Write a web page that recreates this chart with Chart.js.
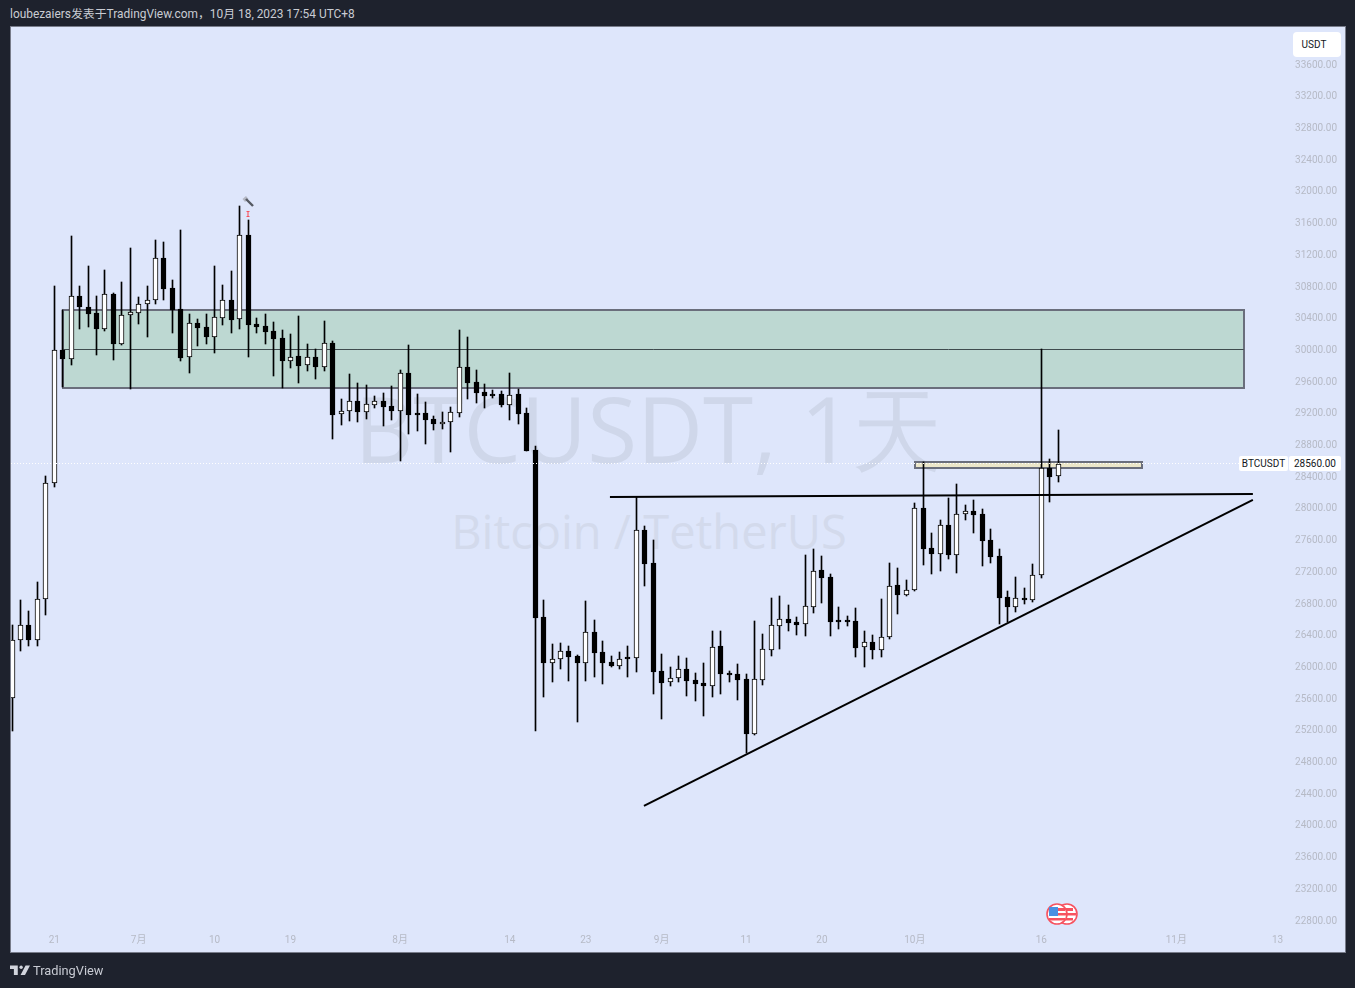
<!DOCTYPE html>
<html>
<head>
<meta charset="utf-8">
<title>BTCUSDT</title>
<script src="https://cdn.jsdelivr.net/npm/chart.js@4/dist/chart.umd.min.js"></script>
<style>
    html, body { margin: 0; padding: 0; background: #1e222d; }
    body { position: relative; width: 1355px; height: 988px; overflow: hidden; font-family: Roboto, 'Noto Sans CJK SC', sans-serif; }
    #panel { position: absolute; left: 10px; top: 26px; width: 1334px; height: 925px; background: #dee6fb; border: 1px solid #787c8a; }
    #chart { position: absolute; left: 0; top: 0; }
    .abs { position: absolute; white-space: nowrap; }
    .mark1 { left: 0; width: 1298px; text-align: center; top: 373px; font-family: 'Open Sans', sans-serif; font-size: 91px; line-height: 110px; color: #cfd7ea; }
    .mark2 { left: 0; width: 1298px; text-align: center; top: 500px; font-family: 'Open Sans', sans-serif; font-size: 47px; line-height: 62px; color: #d3daec; }
    .tag { background: #fff; color: #131722; font-size: 10px; line-height: 15px; height: 15px; text-align: center; border-radius: 2px; }
</style>
</head>
<body>
<div class="abs" style="left:10px;top:7px;font-size:11.9px;line-height:15px;color:#c9ccd3">loubezaiers发表于TradingView.com，10月 18, 2023 17:54 UTC+8</div>
<div id="panel"></div>
<div class="abs mark1">BTCUSDT, 1天</div>
<div class="abs mark2">Bitcoin / TetherUS</div>
<canvas id="chart" width="1355" height="988"></canvas>

<div class="abs tag" style="left:1293px;top:32px;width:42px;height:25px;line-height:25px;border-radius:4px;padding-right:6px">USDT</div>
<div class="abs tag" style="left:1239px;top:456px;width:49px">BTCUSDT</div>
<div class="abs tag" style="left:1289px;top:456px;width:52px">28560.00</div>

<!-- hammer + marker above the July high -->
<svg class="abs" style="left:240px;top:195px" width="16" height="24" viewBox="0 0 16 24">
    <path d="M2.5 4 L6 1 L8.5 4 L5 7 Z" fill="#b4b8c4"/>
    <path d="M6 4 L13 11" stroke="#555962" stroke-width="2.4"/>
    <path d="M6.5 16.5h3M6.5 21.5h3M8 16.5v5" stroke="#f7525f" stroke-width="1.1" fill="none"/>
</svg>

<!-- earnings flags -->
<svg class="abs" style="left:1046px;top:903px" width="33" height="23" viewBox="0 0 33 23">
    <circle cx="21" cy="11" r="10" fill="#fff" stroke="#f7525f" stroke-width="1.6"/>
    <path d="M16 5h11v3h-11zM16 10h14v2.5h-14zM16 15h11v2.5h-11z" fill="#f7525f"/>
    <circle cx="11" cy="11" r="10" fill="#fff" stroke="#f7525f" stroke-width="1.6"/>
    <path d="M12 5h7v3h-7zM12 10h9v2.5h-9zM3 15h16v2.5h-16z" fill="#f7525f"/>
    <rect x="3" y="4" width="9" height="9" fill="#4a90e2"/>
</svg>

<!-- footer logo -->
<svg class="abs" style="left:10px;top:964px" width="20" height="12" viewBox="0 0 36 20">
    <path d="M14 2H0v6h7v11h7zM28 2h8l-9 17h-8z" fill="#d1d4dc"/>
    <circle cx="20" cy="5" r="3" fill="#d1d4dc"/>
</svg>
<div class="abs" style="left:33px;top:962px;font-size:12.8px;line-height:17px;color:#c8cbd3">TradingView</div>

<script>
// Daily candles, first one is Jun 16, index = days since then
const opens = [
    25600, 26340, 26520, 26340, 26850, 28310, 29990, 29880, 30680, 30530,
    30460, 30260, 30700, 30070, 30440, 30460, 30580, 30620, 31150, 30780,
    30510, 29900, 30340, 30280, 30160, 30400, 30620, 30380, 31450, 30320,
    30300, 30230, 30150, 29860, 29920, 29800, 29910, 29780, 30080, 29180,
    29230, 29350, 29210, 29300, 29350, 29290, 29230, 29700, 29200, 29200,
    29120, 29060, 29090, 29200, 29780, 29590, 29460, 29440, 29440, 29300,
    29440, 29200, 28730, 26620, 26050, 26100, 26200, 26130, 26050, 26440,
    26180, 26060, 26010, 26120, 26110, 27720, 27310, 25940, 25800, 25860,
    25970, 25830, 25790, 25760, 26260, 25920, 25910, 25840, 25150, 25830,
    26210, 26510, 26600, 26560, 26530, 26750, 27220, 27130, 26590, 26590,
    26570, 26240, 26310, 26210, 26370, 27030, 26900, 26960, 28000, 27500,
    27420, 27790, 27410, 27930, 27960, 27920, 27600, 27390, 26880, 26750,
    26860, 26840, 27150, 28500, 28400
];
const closes = [
    26340, 26520, 26340, 26850, 28310, 29990, 29880, 30680, 30530, 30450,
    30260, 30700, 30070, 30440, 30470, 30580, 30620, 31150, 30760, 30500,
    29890, 30340, 30270, 30160, 30410, 30620, 30370, 31450, 30310, 30280,
    30220, 30130, 29860, 29910, 29790, 29900, 29780, 30080, 29170, 29230,
    29350, 29210, 29310, 29350, 29270, 29220, 29700, 29170, 29170, 29110,
    29060, 29090, 29210, 29780, 29580, 29450, 29410, 29410, 29300, 29430,
    29190, 28720, 26610, 26040, 26100, 26190, 26120, 26040, 26430, 26170,
    26040, 26010, 26100, 26090, 27720, 27290, 25930, 25790, 25860, 25970,
    25820, 25780, 25750, 26250, 25910, 25890, 25830, 25150, 25840, 26220,
    26520, 26600, 26550, 26520, 26760, 27210, 27120, 26560, 26560, 26560,
    26230, 26310, 26210, 26370, 27020, 26900, 26960, 28000, 27480, 27420,
    27780, 27410, 27930, 27960, 27910, 27580, 27380, 26860, 26750, 26860,
    26840, 27150, 28500, 28390, 28560
];
const highs = [
    26520, 26840, 26700, 27070, 28400, 30800, 30500, 31430, 30800, 31050,
    30680, 31000, 30710, 30850, 31280, 30660, 30800, 31380, 31360, 30880,
    31510, 30450, 30390, 30450, 31050, 30810, 30990, 31810, 31630, 30400,
    30450, 30350, 30250, 30200, 30420, 30070, 30000, 30360, 30110, 29380,
    29690, 29580, 29550, 29410, 29450, 29540, 29740, 30060, 29440, 29340,
    29160, 29210, 29270, 30250, 30160, 29740, 29560, 29490, 29480, 29700,
    29500, 29260, 28780, 26840, 26280, 26300, 26260, 26150, 26830, 26590,
    26320, 26130, 26180, 26260, 28140, 27770, 27600, 26160, 25990, 26130,
    26110, 25920, 26040, 26450, 26450, 25940, 26030, 25910, 26570, 26410,
    26860, 26890, 26780, 26620, 27410, 27480, 27390, 27170, 26750, 26640,
    26740, 26450, 26400, 26850, 27310, 27240, 27090, 28060, 28580, 27680,
    27850, 28130, 28300, 28040, 28100, 27990, 27740, 27480, 26950, 27130,
    26990, 27290, 30000, 28620, 28980
];
const lows = [
    25180, 26190, 26260, 26260, 26650, 28270, 29530, 29810, 30260, 30280,
    29930, 30230, 29870, 30060, 29500, 30320, 30160, 30570, 30620, 30210,
    29860, 29700, 30040, 30070, 29960, 30310, 30210, 30260, 29910, 30210,
    30070, 29670, 29510, 29770, 29580, 29730, 29630, 29730, 28870, 29050,
    29100, 29090, 29120, 29260, 29030, 29110, 28590, 28930, 28970, 28810,
    28980, 29000, 28710, 29150, 29380, 29320, 29260, 29390, 29270, 29110,
    29060, 28720, 25180, 25620, 25800, 25970, 25820, 25300, 25820, 25870,
    25780, 25990, 25970, 25870, 25930, 27020, 25650, 25340, 25750, 25800,
    25630, 25560, 25380, 25620, 25650, 25800, 25580, 24910, 25140, 25770,
    26130, 26220, 26450, 26400, 26380, 26670, 26800, 26380, 26470, 26510,
    26120, 25990, 26090, 26120, 26350, 26660, 26890, 26950, 27280, 27170,
    27210, 27360, 27180, 27850, 27680, 27270, 27310, 26540, 26560, 26690,
    26790, 26810, 27120, 28080, 28330
];

const yTicks = [
    22800, 23200, 23600, 24000, 24400, 24800, 25200, 25600, 26000, 26400,
    26800, 27200, 27600, 28000, 28400, 28800, 29200, 29600, 30000, 30400,
    30800, 31200, 31600, 32000, 32400, 32800, 33200, 33600
];
const xTickDays = [5, 15, 24, 33, 46, 59, 68, 77, 87, 96, 107, 122, 138, 150];
const xTickLabels = ['21', '7月', '10', '19', '8月', '14', '23', '9月', '11', '20', '10月', '16', '11月', '13'];

// Drawings on the chart: [day, price] end points
const resistanceLine = [[70.87, 28139], [147.08, 28177]];
const supportLine = [[74.9, 24240], [147.08, 28101]];
const greenZone = { from: 6, to: 146, low: 29515, high: 30500, mid: 30000 };
const sandZone = { from: 107, to: 133.9, low: 28510, high: 28585 };
const lastPrice = 28560;
const lastPriceEnd = 145.5;

const dayIndex = opens.map((_, i) => i);

const annotations = {
    id: 'annotations',
    afterUpdate(chart) {
        // price labels sit a pixel lower on the original
        chart.scales.y.getLabelItems().forEach((item) => {
            item.options.translation[1] += 1;
        });
    },
    beforeDatasetsDraw(chart) {
        const { ctx, scales: { x, y } } = chart;

        // snap the candles to whole pixels
        chart.data.datasets.forEach((ds, i) => {
            if (ds.type !== 'bar') return;
            chart.getDatasetMeta(i).data.forEach((bar) => {
                bar.x = Math.floor(bar.x) + 0.5;
                bar.y = Math.round(bar.y);
                bar.base = Math.round(bar.base);
            });
        });

        function box(zone, fill) {
            const left = Math.round(x.getPixelForValue(zone.from));
            const right = Math.round(x.getPixelForValue(zone.to));
            const top = Math.round(y.getPixelForValue(zone.high));
            const bottom = Math.round(y.getPixelForValue(zone.low));
            ctx.fillStyle = fill;
            ctx.fillRect(left, top, right - left, bottom - top);
            ctx.strokeStyle = '#6a6e7c';
            ctx.lineWidth = 2;
            ctx.strokeRect(left, top, right - left, bottom - top);
        }

        ctx.save();
        box(greenZone, '#bdd8d2');
        const midY = Math.floor(y.getPixelForValue(greenZone.mid)) + 0.5;
        ctx.strokeStyle = '#3f4b4e';
        ctx.lineWidth = 1;
        ctx.beginPath();
        ctx.moveTo(x.getPixelForValue(greenZone.from), midY);
        ctx.lineTo(x.getPixelForValue(greenZone.to), midY);
        ctx.stroke();
        box(sandZone, '#ebe6c9');
        ctx.restore();
    },
    afterDatasetsDraw(chart) {
        const { ctx, chartArea, scales: { x, y } } = chart;
        const py = Math.floor(y.getPixelForValue(lastPrice)) + 0.5;
        ctx.save();
        ctx.strokeStyle = '#ffffff';
        ctx.lineWidth = 1;
        ctx.setLineDash([1, 2]);
        ctx.beginPath();
        ctx.moveTo(chartArea.left, py);
        ctx.lineTo(x.getPixelForValue(lastPriceEnd), py);
        ctx.stroke();
        ctx.restore();
    },
};

function toPoints(line) {
    return line.map((p) => ({ x: p[0], y: p[1] }));
}

const tickColor = '#b6bac6';
const tickFont = { family: "Roboto, 'Noto Sans CJK SC', sans-serif", size: 10 };

new Chart(document.getElementById('chart'), {
    type: 'bar',
    data: {
        datasets: [
            {
                type: 'line',
                data: toPoints(resistanceLine),
                borderColor: '#000',
                borderWidth: 2,
                pointRadius: 0,
                order: 1,
            },
            {
                type: 'line',
                data: toPoints(supportLine),
                borderColor: '#000',
                borderWidth: 2,
                pointRadius: 0,
                order: 1,
            },
            {
                // bodies
                type: 'bar',
                data: dayIndex.map((i) => ({ x: i, y: [opens[i], closes[i]] })),
                backgroundColor: dayIndex.map((i) => (closes[i] >= opens[i] ? '#fff' : '#000')),
                borderColor: '#000',
                borderWidth: 1,
                borderSkipped: false,
                barThickness: 5,
                grouped: false,
                order: 2,
            },
            {
                // wicks
                type: 'bar',
                data: dayIndex.map((i) => ({ x: i, y: [lows[i], highs[i]] })),
                backgroundColor: '#000',
                borderWidth: 0,
                barThickness: 1,
                grouped: false,
                order: 3,
            },
        ],
    },
    options: {
        responsive: false,
        animation: false,
        events: [],
        layout: { padding: { left: 11, right: 10, top: 27, bottom: 36 } },
        plugins: { legend: { display: false }, tooltip: { enabled: false } },
        scales: {
            x: {
                type: 'linear',
                offset: false,
                min: -0.13,
                max: 158,
                grid: { display: false, drawTicks: false },
                border: { display: false },
                afterFit(scale) {
                    scale.height = 22;
                },
                afterBuildTicks(scale) {
                    scale.ticks = xTickDays.map((v) => ({ value: v }));
                },
                ticks: {
                    autoSkip: false,
                    maxRotation: 0,
                    padding: 4,
                    color: tickColor,
                    font: tickFont,
                    callback: (v) => xTickLabels[xTickDays.indexOf(v)],
                },
            },
            y: {
                position: 'right',
                min: 22675,
                max: 34069,
                grid: { display: false, drawTicks: false },
                border: { display: false },
                afterFit(scale) {
                    scale.width = 0;
                },
                afterBuildTicks(scale) {
                    scale.ticks = yTicks.map((v) => ({ value: v }));
                },
                ticks: {
                    mirror: true,
                    padding: -8,
                    color: tickColor,
                    font: tickFont,
                    callback: (v) => v.toFixed(2),
                },
            },
        },
    },
    plugins: [annotations],
});
</script>
</body>
</html>
